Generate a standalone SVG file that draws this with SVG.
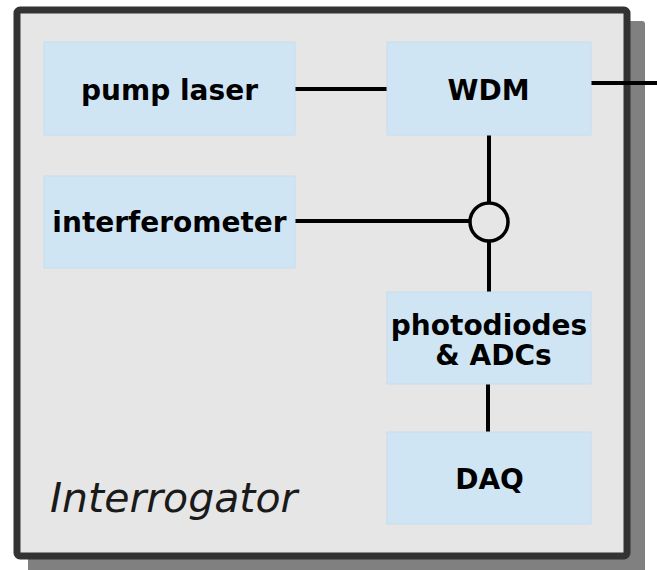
<svg xmlns="http://www.w3.org/2000/svg" width="657" height="570" viewBox="0 0 657 570">
<style>
.node rect{fill:#d0e5f3;stroke:#c8dcec;stroke-width:1}
.node text{font-family:"DejaVu Sans",sans-serif;font-weight:bold;font-size:28px;fill:#000;text-anchor:middle}
.conn line{stroke:#000;stroke-width:4;fill:none}
.conn circle{stroke:#000;stroke-width:3.5;fill:none}
</style>
<rect width="657" height="570" fill="#ffffff"/>
<g id="interrogator">
<rect x="28" y="21" width="617" height="553" rx="3" fill="#808080"/>
<rect x="17" y="10" width="610" height="546" rx="3" fill="#e6e6e6" stroke="#333333" stroke-width="7"/>
<text x="50" y="512" font-family="DejaVu Sans,sans-serif" font-style="italic" font-size="41" fill="#1a1a1a">Interrogator</text>
</g>
<g id="connectors" class="conn">
<line x1="295" y1="89" x2="387" y2="89"/>
<line x1="591" y1="83" x2="657" y2="83"/>
<line x1="489" y1="135" x2="489" y2="203"/>
<line x1="295" y1="221" x2="470" y2="221"/>
<circle cx="489" cy="222" r="19"/>
<line x1="489" y1="241" x2="489" y2="292"/>
<line x1="488" y1="384" x2="488" y2="432"/>
</g>
<g id="pump-laser" class="node">
<rect x="44" y="42" width="251" height="93"/>
<text x="169.5" y="100">pump laser</text>
</g>
<g id="interferometer" class="node">
<rect x="44" y="176" width="251" height="92"/>
<text x="169.5" y="232">interferometer</text>
</g>
<g id="wdm" class="node">
<rect x="387" y="42" width="204" height="93"/>
<text x="488.5" y="100">WDM</text>
</g>
<g id="photodiodes" class="node">
<rect x="387" y="292" width="204" height="92"/>
<text x="489" y="335">photodiodes</text>
<text x="493.5" y="365">&amp; ADCs</text>
</g>
<g id="daq" class="node">
<rect x="387" y="432" width="204" height="92"/>
<text x="489.5" y="489">DAQ</text>
</g>
</svg>
